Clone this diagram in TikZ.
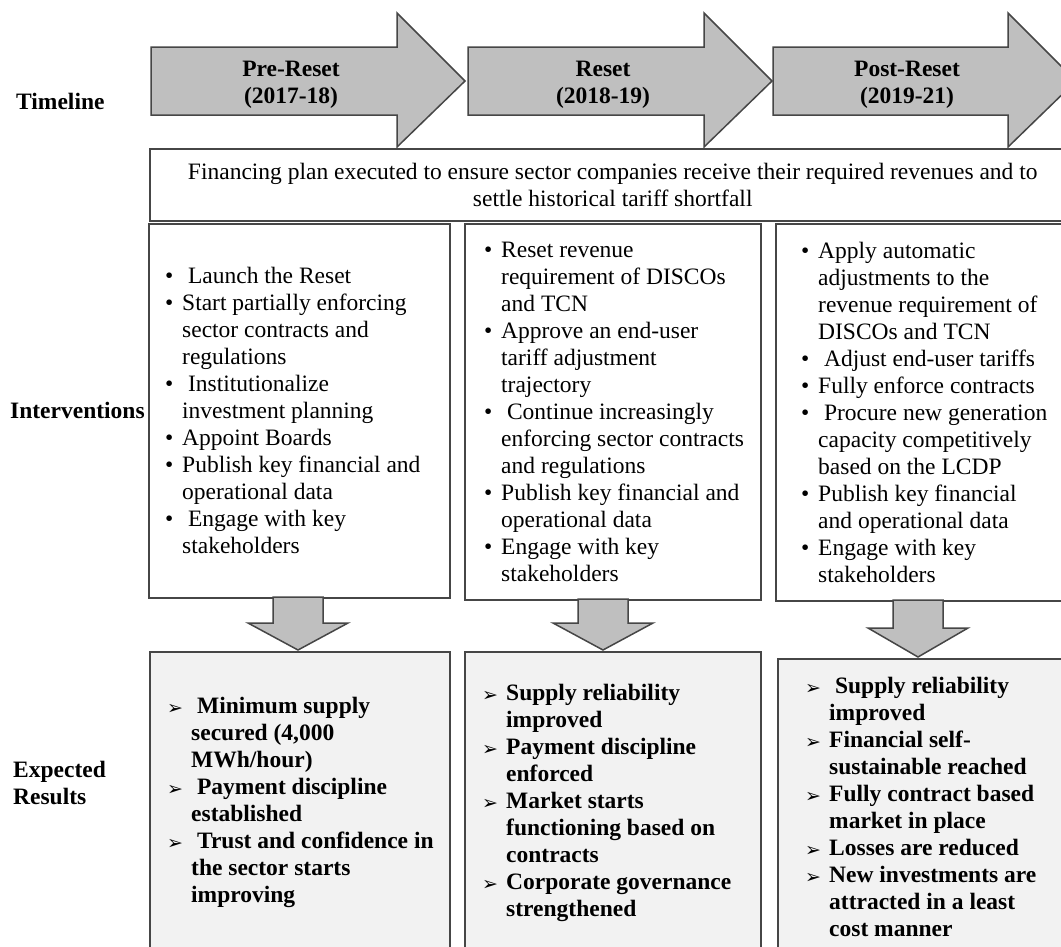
\documentclass[tikz,border=0pt]{standalone}
\usepackage{fontspec}
\setmainfont{Liberation Serif}
\newfontfamily\dingfont{DejaVu Sans}

\definecolor{arrowgray}{RGB}{191,191,191}
\definecolor{linegray}{RGB}{70,70,70}
\definecolor{resultgray}{RGB}{242,242,242}

\newcommand{\bul}{\makebox[17pt][l]{\textbullet}}
\newcommand{\ind}{\hspace*{17pt}}
\newcommand{\rarr}{\makebox[24pt][l]{\dingfont\fontsize{19}{19}\selectfont\raisebox{-1pt}{➢}}}
\newcommand{\rind}{\hspace*{24pt}}
% timeline arrow: shaft left, head start, tip
\newcommand{\flowright}[3]{%
  \draw[blockarrow] (#1,47) -- (#2,47) -- (#2,13) -- (#3,81) -- (#2,147)
    -- (#2,115) -- (#1,115) -- cycle;}
% down arrow: centre, top, neck, tip
\newcommand{\flowdown}[4]{%
  \draw[blockarrow] (#1-25,#2) -- (#1+25,#2) -- (#1+25,#3) -- (#1+50,#3)
    -- (#1,#4) -- (#1-50,#3) -- (#1-25,#3) -- cycle;}

\tikzset{
  blockarrow/.style={fill=arrowgray, draw=linegray, line width=1.5pt, line join=miter},
  lbl/.style={font=\fontsize{23.5}{27}\selectfont\bfseries, align=left, inner sep=0},
  finbox/.style={draw=linegray, line width=1.5pt, align=center, inner sep=0},
  intbox/.style={draw=linegray, line width=1.5pt, fill=white, inner sep=0},
  resbox/.style={draw=linegray, line width=1.5pt, fill=resultgray, inner sep=0},
  listtext/.style={align=left, inner sep=0},
  reslist/.style={align=left, inner sep=0, font=\fontsize{23.5}{27}\selectfont\bfseries}
}

\begin{document}
\begin{tikzpicture}[x=1pt, y=-1pt, font=\fontsize{23.5}{27}\selectfont]
\useasboundingbox (0,0) rectangle (1061,946);
\clip (0,0) rectangle (1061,946);
\fill[white] (0,0) rectangle (1061,946);

% timeline
\flowright{151}{397}{465}
\flowright{468}{704}{772}
\flowright{773}{1008}{1076}
\node[lbl, align=center] (pre) at (291,85) {Pre-Reset\\(2017-18)};
\node[lbl, align=center] (reset) at (603,85) {Reset\\(2018-19)};
\node[lbl, align=center] (post) at (907,85) {Post-Reset\\(2019-21)};
\node[lbl, anchor=west] (timeline) at (16,101) {Timeline};

\node[finbox, minimum width=926, minimum height=72, anchor=north west] (fin) at (149,148)
  {Financing plan executed to ensure sector companies receive their required revenues and to\\
   settle historical tariff shortfall};

% interventions
\node[lbl, anchor=west] (interv) at (10,410) {Interventions};
\node[intbox, minimum width=301, minimum height=374, anchor=north west] (int1) at (148,223) {};
\node[intbox, minimum width=296, minimum height=376, anchor=north west] (int2) at (464,223) {};
\node[intbox, minimum width=300, minimum height=377, anchor=north west] (int3) at (775,223) {};

\node[listtext, anchor=west] (int1list) at ([xshift=17]int1.west) {%
  \bul\ Launch the Reset\\
  \bul Start partially enforcing\\
  \ind sector contracts and\\
  \ind regulations\\
  \bul\ Institutionalize\\
  \ind investment planning\\
  \bul Appoint Boards\\
  \bul Publish key financial and\\
  \ind operational data\\
  \bul\ Engage with key\\
  \ind stakeholders};
\node[listtext, anchor=west] (int2list) at ([xshift=20]int2.west) {%
  \bul Reset revenue\\
  \ind requirement of DISCOs\\
  \ind and TCN\\
  \bul Approve an end-user\\
  \ind tariff adjustment\\
  \ind trajectory\\
  \bul\ Continue increasingly\\
  \ind enforcing sector contracts\\
  \ind and regulations\\
  \bul Publish key financial and\\
  \ind operational data\\
  \bul Engage with key\\
  \ind stakeholders};
\node[listtext, anchor=west] (int3list) at ([xshift=26]int3.west) {%
  \bul Apply automatic\\
  \ind adjustments to the\\
  \ind revenue requirement of\\
  \ind DISCOs and TCN\\
  \bul\ Adjust end-user tariffs\\
  \bul Fully enforce contracts\\
  \bul\ Procure new generation\\
  \ind capacity competitively\\
  \ind based on the LCDP\\
  \bul Publish key financial\\
  \ind and operational data\\
  \bul Engage with key\\
  \ind stakeholders};

% expected results
\flowdown{298}{597}{623}{650}
\flowdown{603}{599}{623}{650}
\flowdown{918}{600}{628}{657}
\node[lbl, anchor=west] (expect) at (13,783) {Expected\\Results};
\node[resbox, minimum width=300, minimum height=302, anchor=north west] (res1) at (149,651) {};
\node[resbox, minimum width=296, minimum height=302, anchor=north west] (res2) at (464,651) {};
\node[resbox, minimum width=300, minimum height=296, anchor=north west] (res3) at (777,658) {};

\node[reslist, anchor=west] (res1list) at ([xshift=18]res1.west) {%
  \rarr\ Minimum supply\\
  \rind secured (4,000\\
  \rind MWh/hour)\\
  \rarr\ Payment discipline\\
  \rind established\\
  \rarr\ Trust and confidence in\\
  \rind the sector starts\\
  \rind improving};
\node[reslist, anchor=west] (res2list) at ([xshift=18]res2.west) {%
  \rarr Supply reliability\\
  \rind improved\\
  \rarr Payment discipline\\
  \rind enforced\\
  \rarr Market starts\\
  \rind functioning based on\\
  \rind contracts\\
  \rarr Corporate governance\\
  \rind strengthened};
\node[reslist, anchor=west] (res3list) at ([xshift=28]res3.west) {%
  \rarr\ Supply reliability\\
  \rind improved\\
  \rarr Financial self-\\
  \rind sustainable reached\\
  \rarr Fully contract based\\
  \rind market in place\\
  \rarr Losses are reduced\\
  \rarr New investments are\\
  \rind attracted in a least\\
  \rind cost manner};
\end{tikzpicture}
\end{document}
